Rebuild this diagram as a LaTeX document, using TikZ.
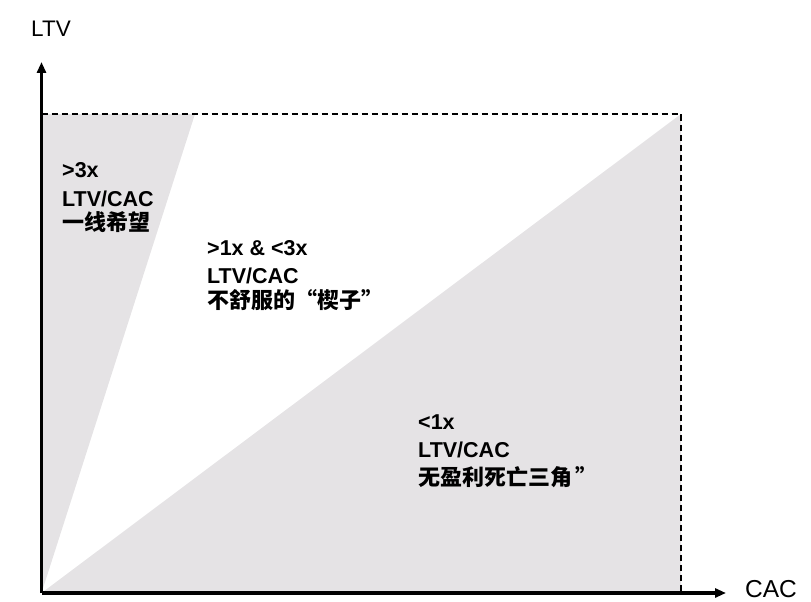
\documentclass[tikz,border=0pt]{standalone}
\usepackage{fontspec}
\setmainfont{Liberation Sans}
\newfontfamily\cjk{Noto Sans CJK SC}
\usetikzlibrary{arrows.meta}
\definecolor{zonegray}{RGB}{229,227,229}
\tikzset{
  axisline/.style={line width=3.2pt,-{Triangle[length=11pt,width=9pt]}},
  frame/.style={line width=1.5pt,dash pattern=on 6pt off 4pt},
  zone/.style={fill=zonegray,draw=none},
  lbl/.style={anchor=base west,inner sep=0pt,font=\fontsize{21.5}{25}\selectfont\bfseries},
  cjklbl/.style={anchor=base west,inner sep=0pt,font=\fontsize{22}{25}\selectfont\cjk\bfseries},
  axlabel/.style={inner sep=0pt}
}
\begin{document}
\begin{tikzpicture}[x=1pt,y=-1pt]
\useasboundingbox (0,0) rectangle (811,602);
\coordinate (O) at (41.5,593);
\coordinate (TL) at (41.5,114);
\coordinate (TR) at (681,114);
\coordinate (BR) at (681,593);
\coordinate (T3) at (195,114);
\coordinate (Ytip) at (41.5,62);
\coordinate (Xtip) at (726,593);
% zones
\fill[zone] (O) -- (TL) -- (T3) -- cycle;
\fill[zone] (O) -- (TR) -- (BR) -- cycle;
% dashed frame
\draw[frame] (TL) -- (TR) -- (BR);
% axes
\draw[axisline] (O) -- (Ytip);
\draw[axisline] (O) -- (Xtip);
% axis labels
\node[axlabel,anchor=base,font=\fontsize{22.5}{26}\selectfont] (ltv) at (51,37) {LTV};
\node[axlabel,anchor=base west,font=\fontsize{24.5}{28}\selectfont] (cac) at (745,597) {CAC};
% block 1
\node[lbl] (a1) at (62,177) {>3x};
\node[lbl] (a2) at (62,206) {LTV/CAC};
\node[cjklbl] (a3) at (62,230) {一线希望};
% block 2
\node[lbl] (b1) at (207,255) {>1x \& <3x};
\node[lbl] (b2) at (207,283) {LTV/CAC};
\node[cjklbl] (b3) at (207,308) {不舒服的“楔子”};
% block 3
\node[lbl] (c1) at (418,429) {<1x};
\node[lbl] (c2) at (418,457) {LTV/CAC};
\node[cjklbl] (c3) at (418,485) {无盈利死亡三角\,”};
\end{tikzpicture}
\end{document}
